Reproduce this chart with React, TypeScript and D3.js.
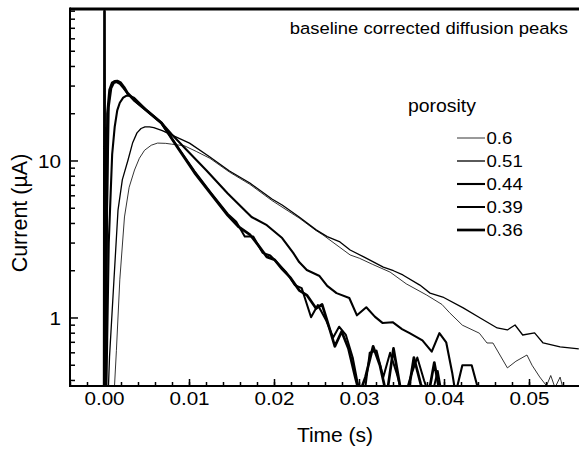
import React from 'react';
import * as d3 from 'd3';

const W = 579;
const H = 451;
const FONT = '"Liberation Sans", Arial, Helvetica, sans-serif';

// plot frame
const PX0 = 70, PX1 = 579, PY0 = 9, PY1 = 386;

const porosityLabels = ['0.6', '0.51', '0.44', '0.39', '0.36'];
const xMajorTicks = [0, 0.01, 0.02, 0.03, 0.04, 0.05];
const xTickLabels = ['0.00', '0.01', '0.02', '0.03', '0.04', '0.05'];
const yMajorTicks = [1, 10];
const yTickLabels = ['1', '10'];
const yMinorTicks = [0.4, 0.5, 0.6, 0.7, 0.8, 0.9, 2, 3, 4, 5, 6, 7, 8, 9, 20, 30, 40, 50, 60, 70, 80, 90];
const xMinorTicks = d3.range(-4, 56, 2).map((d) => d / 1000);

// [time (s), current (µA)]
const series06: [number, number][] = [
  [0.001, 0.3], [0.00118, 0.37], [0.0014, 0.62], [0.0018, 1.75], [0.00235, 4.4], [0.0029, 6.8],
  [0.00353, 8.76], [0.0041, 10.4], [0.00471, 11.7], [0.0055, 12.6], [0.00624, 13.0], [0.0072, 12.95],
  [0.00788, 12.8], [0.0094, 12.5], [0.0108, 11.5], [0.0124, 10.4], [0.0147, 8.5], [0.0171, 7.1],
  [0.0197, 5.6], [0.0229, 4.33], [0.0249, 3.6], [0.0257, 3.38], [0.0270, 3.0], [0.0289, 2.52],
  [0.0300, 2.4], [0.0315, 2.2], [0.0336, 1.96], [0.0355, 1.65], [0.0379, 1.40], [0.0397, 1.22],
  [0.0406, 1.08], [0.0421, 0.90], [0.0441, 0.80], [0.0450, 0.693], [0.0457, 0.693], [0.0474, 0.481],
  [0.0484, 0.53], [0.0497, 0.581], [0.0503, 0.50], [0.0512, 0.421], [0.0520, 0.37], [0.0525, 0.43],
  [0.0530, 0.36], [0.0536, 0.42], [0.0541, 0.33], [0.0550, 0.30],
];

const series051: [number, number][] = [
  [0.0003, 0.3], [0.00047, 0.37], [0.00059, 0.565], [0.0011, 1.7], [0.00159, 4.87], [0.0021, 7.6],
  [0.00276, 10.1], [0.0033, 13.0], [0.00382, 15.1], [0.0043, 16.1], [0.00476, 16.5], [0.0053, 16.5],
  [0.0058, 16.3], [0.0068, 15.6], [0.0082, 14.4], [0.0100, 13.0], [0.0124, 10.6], [0.0147, 8.63],
  [0.0171, 7.24], [0.0197, 5.73], [0.0209, 5.24], [0.0229, 4.4], [0.0249, 3.64], [0.0262, 3.3],
  [0.0277, 3.05], [0.0289, 2.71], [0.0305, 2.45], [0.0328, 2.11], [0.0340, 2.0], [0.0351, 1.88],
  [0.0371, 1.62], [0.0383, 1.44], [0.0398, 1.36], [0.0422, 1.16], [0.0442, 1.0], [0.0462, 0.864],
  [0.0474, 0.839], [0.0483, 0.902], [0.0492, 0.779], [0.0506, 0.803], [0.0516, 0.693], [0.0536, 0.654],
  [0.0558, 0.635],
];

const series044: [number, number][] = [
  [0.0002, 0.3], [0.0005, 3], [0.0009, 11], [0.0012, 16.5], [0.0015, 21], [0.0018, 23.5],
  [0.0022, 25.3], [0.0026, 26.1], [0.0030, 26.0], [0.0035, 25.2], [0.0050, 21], [0.0067, 17.5],
  [0.0079, 14.8], [0.0095, 12.0], [0.012, 8.7], [0.0145, 6.2], [0.0173, 4.4], [0.0191, 3.9],
  [0.0209, 3.23], [0.0222, 2.6], [0.0229, 2.27], [0.0238, 2.02], [0.0253, 1.85], [0.0262, 1.60],
  [0.0273, 1.44], [0.0288, 1.34], [0.0297, 1.04], [0.0308, 1.17], [0.0318, 1.02], [0.0327, 0.93],
  [0.0339, 0.94], [0.0350, 0.85], [0.0359, 0.80], [0.0374, 0.72], [0.0385, 0.61], [0.0394, 0.80],
  [0.0402, 0.70], [0.0409, 0.45], [0.0413, 0.33], [0.0421, 0.50], [0.0432, 0.50], [0.0441, 0.33],
];

const series039: [number, number][] = [
  [0.0001, 0.3], [0.0003, 5], [0.0005, 22], [0.0008, 29], [0.0011, 31.3], [0.0014, 31.8],
  [0.0018, 31.0], [0.0022, 29.2], [0.0027, 27], [0.0035, 24.2], [0.0045, 21.8], [0.0067, 17.3],
  [0.0086, 12.3], [0.0106, 8.6], [0.0125, 6.3], [0.0145, 4.6], [0.0155, 4.1], [0.0165, 3.3],
  [0.0175, 3.3], [0.0186, 2.6], [0.0195, 2.5], [0.0205, 2.2], [0.0214, 1.95], [0.0224, 1.62],
  [0.0232, 1.55], [0.0243, 1.01], [0.0251, 1.21], [0.0261, 0.96], [0.0269, 0.75], [0.0276, 0.88],
  [0.0284, 0.78], [0.0292, 0.56], [0.0298, 0.38], [0.0305, 0.30], [0.0312, 0.60], [0.0320, 0.62],
  [0.0328, 0.42], [0.0336, 0.60], [0.0344, 0.44], [0.0352, 0.30], [0.0360, 0.42], [0.0368, 0.56],
  [0.0376, 0.40], [0.0384, 0.30], [0.0392, 0.46], [0.0398, 0.30], [0.0405, 0.28],
];

const series036: [number, number][] = [
  [-0.00004, 0.3], [0, 90], [0.00005, 0.3], [0.0002, 2], [0.00035, 20], [0.0006, 28.3],
  [0.0009, 31.4], [0.0012, 32.2], [0.0015, 32.3], [0.0019, 31.5], [0.0023, 29.5], [0.0027, 27.1],
  [0.0035, 24.5], [0.0045, 22], [0.0067, 17.5], [0.0086, 12.2], [0.0106, 8.4], [0.0125, 6.2],
  [0.0145, 4.5], [0.0158, 3.8], [0.0171, 3.4], [0.0181, 2.9], [0.0191, 2.45], [0.0200, 2.35],
  [0.0209, 2.05], [0.0219, 1.8], [0.0229, 1.5], [0.0238, 1.4], [0.0249, 1.15], [0.0256, 1.22],
  [0.0263, 0.92], [0.0271, 0.66], [0.0279, 0.82], [0.0287, 0.64], [0.0295, 0.42], [0.0300, 0.33],
  [0.0307, 0.42], [0.0316, 0.66], [0.0324, 0.50], [0.0332, 0.32], [0.0340, 0.64], [0.0348, 0.36],
  [0.0356, 0.30], [0.0364, 0.56], [0.0372, 0.38], [0.0380, 0.30], [0.0388, 0.52], [0.0396, 0.30],
  [0.0404, 0.28],
];

const allSeries = [series06, series051, series044, series039, series036];
const lineWidths = [0.8, 1.3, 2.1, 2.0, 2.7];

function SText(props: {
  x: number;
  y: number;
  size: number;
  sx?: number;
  anchor?: 'start' | 'middle' | 'end';
  rotate?: number;
  children: React.ReactNode;
}) {
  const { x, y, size, sx = 1, anchor = 'start', rotate = 0, children } = props;
  return (
    <text
      transform={`translate(${x},${y}) rotate(${rotate}) scale(${sx},1)`}
      fontSize={size}
      textAnchor={anchor}
      fill="#000"
    >
      {children}
    </text>
  );
}

export default function App() {
  const x = d3.scaleLinear().domain([-0.004059, 0.055824]).range([PX0, PX1]);
  const y = d3.scaleLog().domain([0.3688, 92.9]).range([PY1, PY0]);
  const line = d3
    .line<[number, number]>()
    .x((d) => x(d[0]))
    .y((d) => y(d[1]))
    .curve(d3.curveLinear);

  const legendRowY = d3.scaleLinear().domain([0, 4]).range([137, 229]);

  return (
    <svg
      width={W}
      height={H}
      viewBox={`0 0 ${W} ${H}`}
      style={{ position: 'absolute', left: 0, top: 0, background: '#fff' }}
      fontFamily={FONT}
    >
      <defs>
        <clipPath id="plotClip">
          <rect x={PX0} y={PY0} width={PX1 - PX0} height={PY1 - PY0} />
        </clipPath>
      </defs>
      <rect x={0} y={0} width={W} height={H} fill="#fff" />

      {/* curves */}
      <g clipPath="url(#plotClip)" fill="none" stroke="#000" strokeLinejoin="round">
        {allSeries.map((s, i) => (
          <path key={i} d={line(s) || ''} strokeWidth={lineWidths[i]} />
        ))}
      </g>

      {/* frame */}
      <line x1={PX0} x2={PX1} y1={PY0} y2={PY0} stroke="#000" strokeWidth={3} />
      <line x1={PX0} x2={PX0} y1={PY0 - 1.5} y2={PY1 + 1} stroke="#000" strokeWidth={2} />
      <line x1={PX0 - 1} x2={PX1} y1={PY1} y2={PY1} stroke="#000" strokeWidth={2} />

      {/* ticks */}
      <g stroke="#000" strokeWidth={1.5}>
        {xMinorTicks.map((t) => (
          <line key={'xm' + t} x1={x(t)} x2={x(t)} y1={PY1} y2={PY1 - 4} />
        ))}
        {xMajorTicks.map((t) => (
          <line key={'xM' + t} x1={x(t)} x2={x(t)} y1={PY1} y2={PY1 - 7} />
        ))}
        {yMinorTicks.map((v) => (
          <line key={'ym' + v} x1={PX0} x2={PX0 + 5} y1={y(v)} y2={y(v)} />
        ))}
        {yMajorTicks.map((v) => (
          <line key={'yM' + v} x1={PX0} x2={PX0 + 8} y1={y(v)} y2={y(v)} />
        ))}
      </g>

      {/* tick labels */}
      {xMajorTicks.map((t, i) => (
        <SText key={'xl' + t} x={x(t)} y={405} size={18.8} sx={1.1} anchor="middle">
          {xTickLabels[i]}
        </SText>
      ))}
      {yMajorTicks.map((v, i) => (
        <SText key={'yl' + v} x={61} y={y(v) + 7} size={18.8} sx={1.1} anchor="end">
          {yTickLabels[i]}
        </SText>
      ))}

      {/* axis titles */}
      <SText x={335} y={442} size={21} anchor="middle">
        Time (s)
      </SText>
      <SText x={27} y={213} size={21.5} anchor="middle" rotate={-90}>
        Current (µA)
      </SText>

      {/* annotation */}
      <SText x={568} y={34} size={17} sx={1.085} anchor="end">
        baseline corrected diffusion peaks
      </SText>

      {/* legend */}
      <SText x={408} y={112} size={18.5} sx={1.05}>
        porosity
      </SText>
      {porosityLabels.map((lab, i) => (
        <g key={lab}>
          <line
            x1={457}
            x2={485}
            y1={legendRowY(i) + 1}
            y2={legendRowY(i) + 1}
            stroke="#000"
            strokeWidth={lineWidths[i]}
          />
          <SText x={486.5} y={legendRowY(i) + 6.5} size={16.5} sx={1.13}>
            {lab}
          </SText>
        </g>
      ))}
    </svg>
  );
}
